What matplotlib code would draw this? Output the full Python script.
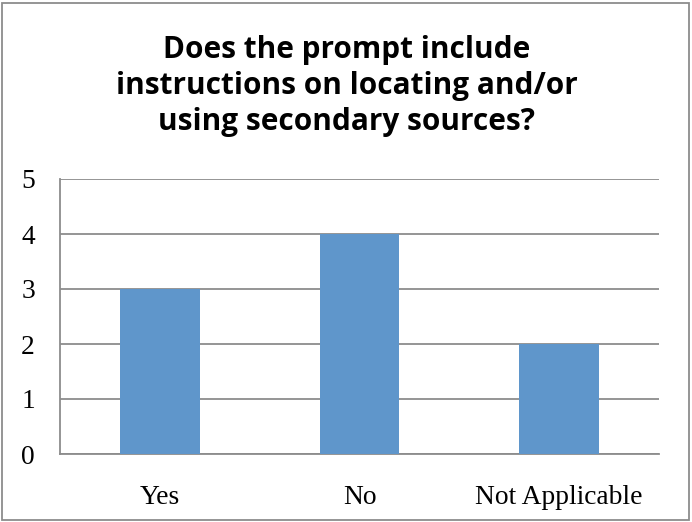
import matplotlib
matplotlib.use("Agg")
import matplotlib.pyplot as plt
from matplotlib.patches import Rectangle

categories = ["Yes", "No", "Not Applicable"]
counts = [3, 4, 2]
y_ticks = [0, 1, 2, 3, 4, 5]
title = "Does the prompt include\ninstructions on locating and/or\nusing secondary sources?"

W, H, DPI = 692, 522, 100
fig = plt.figure(figsize=(W / DPI, H / DPI), dpi=DPI)
fig.patch.set_facecolor("white")

# outer chart border
fig.patches.append(Rectangle((2 / W, 2 / H), 687 / W, 517 / H, transform=fig.transFigure,
                             fill=False, edgecolor="#8c8c8c", linewidth=1.3))

# plot area: x 60..659, y 179..454 (pixels from top)
ax = fig.add_axes([60 / W, 1 - 454 / H, 599 / W, 275 / H])
x = range(len(categories))
ax.bar(x, counts, width=0.4, color="#5f96cb", zorder=3)
ax.set_xlim(-0.5, len(categories) - 0.5)
ax.set_ylim(0, 5)
ax.set_yticks(y_ticks)
ax.set_xticks(list(x))
ax.set_xticklabels(categories)
ax.grid(axis="y", color="#8c8c8c", linewidth=1.3, zorder=0)
for side in ["top", "right"]:
    ax.spines[side].set_visible(False)
for side in ["left", "bottom"]:
    ax.spines[side].set_color("#8c8c8c")
    ax.spines[side].set_linewidth(1.3)
ax.tick_params(axis="both", length=0, labelsize=19.8)
for lbl in ax.get_xticklabels() + ax.get_yticklabels():
    lbl.set_family("Liberation Serif")
ax.tick_params(axis="y", pad=18)
ax.tick_params(axis="x", pad=22)

fig.text(347 / W, 1 - 86 / H, title, ha="center", va="center", fontsize=21.4,
         fontweight="bold", family="Open Sans", linespacing=1.25)

fig.savefig("out.png", dpi=DPI, facecolor="white")
